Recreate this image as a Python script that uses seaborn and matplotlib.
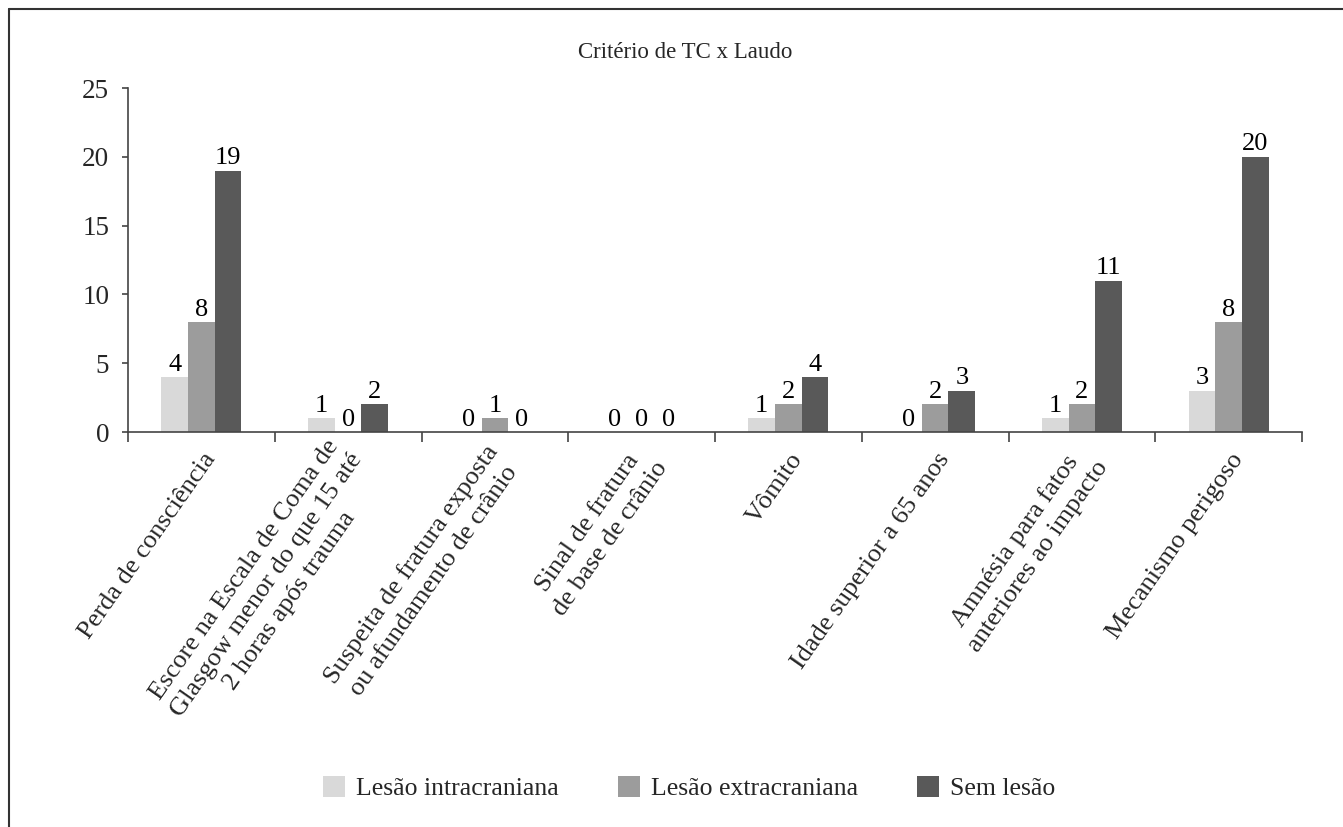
import matplotlib
matplotlib.use("Agg")
import matplotlib.pyplot as plt
import matplotlib.transforms as mtransforms
from matplotlib.lines import Line2D
import seaborn as sns
import pandas as pd

# data
categories = [
    "Perda de consciência",
    "Escore na Escala de Coma de\nGlasgow menor do que 15 até\n2 horas após trauma",
    "Suspeita de fratura exposta\nou afundamento de crânio",
    "Sinal de fratura\nde base de crânio",
    "Vômito",
    "Idade superior a 65 anos",
    "Amnésia para fatos\nanteriores ao impacto",
    "Mecanismo perigoso",
]
series_names = ["Lesão intracraniana", "Lesão extracraniana", "Sem lesão"]
intracraniana = [4, 1, 0, 0, 1, 0, 1, 3]
extracraniana = [8, 0, 1, 0, 2, 2, 2, 8]
sem_lesao = [19, 2, 0, 0, 4, 3, 11, 20]
colors = ["#d9d9d9", "#9c9c9c", "#595959"]

rows = []
for name, vals in zip(series_names, [intracraniana, extracraniana, sem_lesao]):
    for c, v in zip(categories, vals):
        rows.append({"cat": c, "grupo": name, "valor": v})
df = pd.DataFrame(rows)

sns.set_style("white")
plt.rcParams['font.family'] = ['Liberation Serif', 'DejaVu Serif']

fig = plt.figure(figsize=(13.43, 8.27), dpi=100)
ax = fig.add_axes([128 / 1343, 1 - 432 / 827, (1302 - 128) / 1343, (432 - 88) / 827])

sns.barplot(data=df, x="cat", y="valor", hue="grupo", hue_order=series_names,
            order=categories, palette=colors, width=0.545, gap=0,
            saturation=1, edgecolor="none", linewidth=0, ax=ax, errorbar=None)

for cont in ax.containers:
    ax.bar_label(cont, fmt="%d", padding=1, fontsize=19, color="black")

ax.set_ylim(0, 25)
ax.set_xlim(-0.5, len(categories) - 0.5)
ax.set_yticks([0, 5, 10, 15, 20, 25])
ax.tick_params(axis="y", labelsize=19.5, length=4.5, width=1.2, pad=9,
               color="#444444", left=True, direction="out")
ax.set_xticks(range(len(categories)))
ax.set_xticklabels(categories, rotation=55, ha="right", va="center",
                   rotation_mode="anchor", fontsize=19, multialignment="center",
                   linespacing=1.3)
ax.tick_params(axis="x", length=0, pad=17)
ax.set_xticks([i - 0.5 for i in range(len(categories) + 1)], minor=True)
ax.tick_params(axis="x", which="minor", length=7, width=1.2, color="#444444",
               bottom=True, direction="out")
offset = mtransforms.ScaledTranslation(7 / 72, 0, fig.dpi_scale_trans)
for lab in ax.get_xticklabels():
    lab.set_transform(lab.get_transform() + offset)

ax.set_xlabel("")
ax.set_ylabel("")
for side in ["top", "right"]:
    ax.spines[side].set_visible(False)
for side in ["left", "bottom"]:
    ax.spines[side].set_color("#444444")
    ax.spines[side].set_linewidth(1.2)

fig.text(685 / 1343, 1 - 52 / 827, "Critério de TC x Laudo", ha="center",
         va="center", fontsize=16.5)

handles, labels = ax.get_legend_handles_labels()
ax.get_legend().remove()
fig.legend(handles, labels, loc="center", bbox_to_anchor=(689 / 1343, 1 - 788 / 827),
           ncol=3, frameon=False, fontsize=18.5, handlelength=0.86, handleheight=0.86,
           handletextpad=0.43, columnspacing=2.3, borderpad=0)

# outer frame (only left and top edges visible in the reference)
fig.add_artist(Line2D([8.5 / 1343, 8.5 / 1343], [0, 1 - 8.5 / 827],
                      transform=fig.transFigure, color="#333333", lw=1.5))
fig.add_artist(Line2D([8.5 / 1343, 1], [1 - 8.5 / 827, 1 - 8.5 / 827],
                      transform=fig.transFigure, color="#333333", lw=1.5))

fig.savefig("out.png", dpi=100, facecolor="white")
